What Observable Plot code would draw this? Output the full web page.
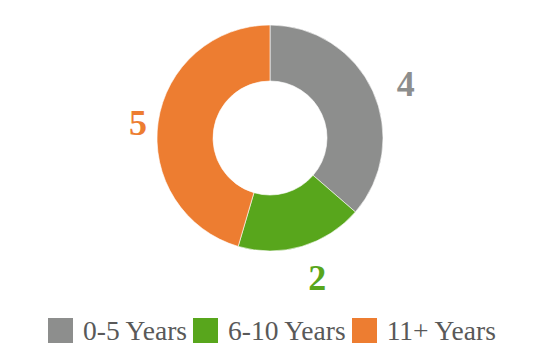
<!DOCTYPE html>
<html>
<head>
<meta charset="utf-8">
<script src="https://cdn.jsdelivr.net/npm/d3@7"></script>
<script src="https://cdn.jsdelivr.net/npm/@observablehq/plot@0.6"></script>
<style>
  html, body { margin: 0; padding: 0; background: #fff; }
  #chart { width: 540px; height: 360px; overflow: hidden; }
  .legend { display: flex; justify-content: center; align-items: center; padding-top: 13px; padding-left: 4px;
            font-family: "Liberation Serif", "Times New Roman", serif; font-size: 27.5px; color: #595959; }
  .item { display: flex; align-items: center; margin-right: 6px; }
  .item:last-child { margin-right: 0; }
  .sw { width: 25px; height: 25px; margin-right: 10px; }
  .item span { line-height: 25px; }
</style>
</head>
<body>
<div id="chart"></div>
<script>
const categories = ["0-5 Years", "6-10 Years", "11+ Years"];
const values = [4, 2, 5];
const colors = ["#8d8e8d", "#58a61c", "#ed7d31"];

const outerR = 113, innerR = 57, labelR = 141;
const pie = d3.pie().sort(null).value(d => d.value)(categories.map((c, i) => ({category: c, value: values[i], color: colors[i]})));
const slices = pie.map(p => {
  const mid = (p.startAngle + p.endAngle) / 2;
  return {...p, lx: labelR * Math.sin(mid), ly: labelR * Math.cos(mid)};
});

function arcs(index, scales) {
  const cx = scales.x(0), cy = scales.y(0);
  const ro = scales.x(outerR) - cx, ri = scales.x(innerR) - cx;
  const arc = d3.arc().innerRadius(ri).outerRadius(ro);
  const g = d3.create("svg:g").attr("transform", `translate(${cx},${cy})`);
  g.selectAll("path").data(slices).join("path")
    .attr("d", arc)
    .attr("fill", d => d.data.color)
    .attr("stroke", "#fff")
    .attr("stroke-width", 0.6);
  return g.node();
}

const plot = Plot.plot({
  width: 540,
  height: 305,
  margin: 0,
  x: {domain: [-270, 270], axis: null},
  y: {domain: [-167, 138], axis: null},
  marks: [
    arcs,
    Plot.text(slices, {
      x: "lx", y: "ly", text: d => String(d.data.value),
      fill: d => d.data.color,
      dx: 7, dy: 5,
      fontSize: 36, fontWeight: "bold",
      fontFamily: "Liberation Serif, Times New Roman, serif"
    })
  ]
});

const legend = document.createElement("div");
legend.className = "legend";
categories.forEach((c, i) => {
  const it = document.createElement("div");
  it.className = "item";
  const sw = document.createElement("div");
  sw.className = "sw";
  sw.style.background = colors[i];
  const t = document.createElement("span");
  t.textContent = c;
  it.appendChild(sw); it.appendChild(t);
  legend.appendChild(it);
});

const root = document.getElementById("chart");
root.appendChild(plot);
root.appendChild(legend);
</script>
</body>
</html>
